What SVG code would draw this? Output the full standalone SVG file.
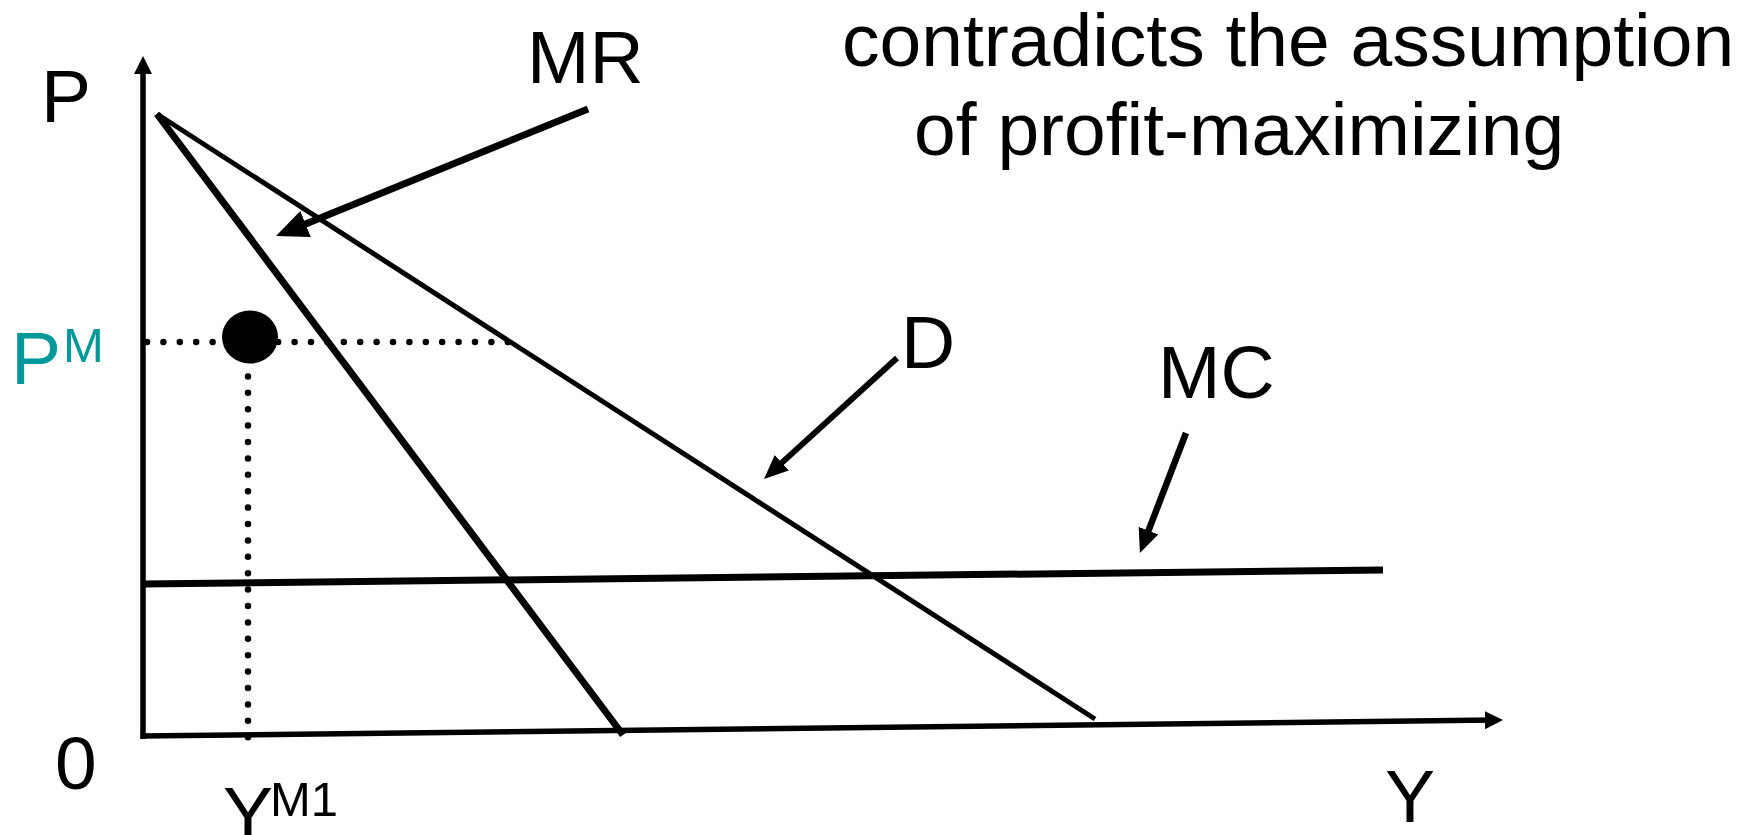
<svg xmlns="http://www.w3.org/2000/svg" width="1746" height="835" viewBox="0 0 1746 835">
<style>
text{font-family:"Liberation Sans",Arial,sans-serif;fill:#000}
.lbl{font-size:75px}
.sup{font-size:49px}
.teal{fill:#009999}
.ln{stroke:#000;fill:none}
.dot{stroke:#000;stroke-width:6.5;stroke-linecap:round;stroke-dasharray:0 16.4;fill:none}
</style>
<defs>
<marker id="axh" markerUnits="userSpaceOnUse" markerWidth="18" markerHeight="18" refX="9" refY="9" orient="auto" viewBox="0 0 18 18"><path d="M0,0 L18,9 L0,18 z" fill="#000"/></marker>
<marker id="bigh" markerUnits="userSpaceOnUse" markerWidth="32" markerHeight="28" refX="16" refY="14" orient="auto" viewBox="0 0 32 28"><path d="M0,0 L32,14 L0,28 z" fill="#000"/></marker>
<marker id="midh" markerUnits="userSpaceOnUse" markerWidth="24" markerHeight="21" refX="12" refY="10.5" orient="auto" viewBox="0 0 24 21"><path d="M0,0 L24,10.5 L0,21 z" fill="#000"/></marker>
</defs>
<g id="axes">
<line class="ln" x1="143" y1="739" x2="143" y2="65" stroke-width="5.5" marker-end="url(#axh)"/>
<line class="ln" x1="140.5" y1="736" x2="1494" y2="720.1" stroke-width="5.5" marker-end="url(#axh)"/>
</g>
<g id="curves">
<line id="MR-curve" class="ln" x1="157" y1="114" x2="623" y2="735" stroke-width="7"/>
<line id="D-curve" class="ln" x1="157" y1="114" x2="1095" y2="719" stroke-width="5"/>
<line id="MC-curve" class="ln" x1="143" y1="584" x2="1383" y2="570" stroke-width="7"/>
</g>
<g id="guides">
<line class="dot" x1="147" y1="342" x2="509" y2="342"/>
<line class="dot" x1="248" y1="360" x2="248" y2="738"/>
</g>
<g id="monopoly-point">
<ellipse cx="250" cy="337" rx="28" ry="26.5" fill="#000"/>
</g>
<g id="connectors">
<line class="ln" x1="588" y1="109" x2="290.8" y2="230" stroke-width="7" marker-end="url(#bigh)"/>
<line class="ln" x1="897" y1="358" x2="772.9" y2="470.9" stroke-width="6" marker-end="url(#midh)"/>
<line class="ln" x1="1186" y1="433" x2="1144.2" y2="541.8" stroke-width="6.5" marker-end="url(#midh)"/>
</g>
<g id="labels">
<text class="lbl" x="41" y="122">P</text>
<text class="lbl" x="527" y="83">MR</text>
<text class="lbl" x="901" y="368">D</text>
<text class="lbl" x="1158" y="398">MC</text>
<text class="lbl" x="55" y="789">0</text>
<text class="lbl" x="1385" y="822">Y</text>
<text class="lbl teal" x="11" y="384">P</text>
<text class="sup teal" x="63" y="362">M</text>
<text class="lbl" x="223" y="839">Y</text>
<text class="sup" x="270" y="816">M1</text>
<text class="lbl" x="842" y="66">contradicts the assumption</text>
<text class="lbl" x="914" y="155">of profit-maximizing</text>
</g>
</svg>
